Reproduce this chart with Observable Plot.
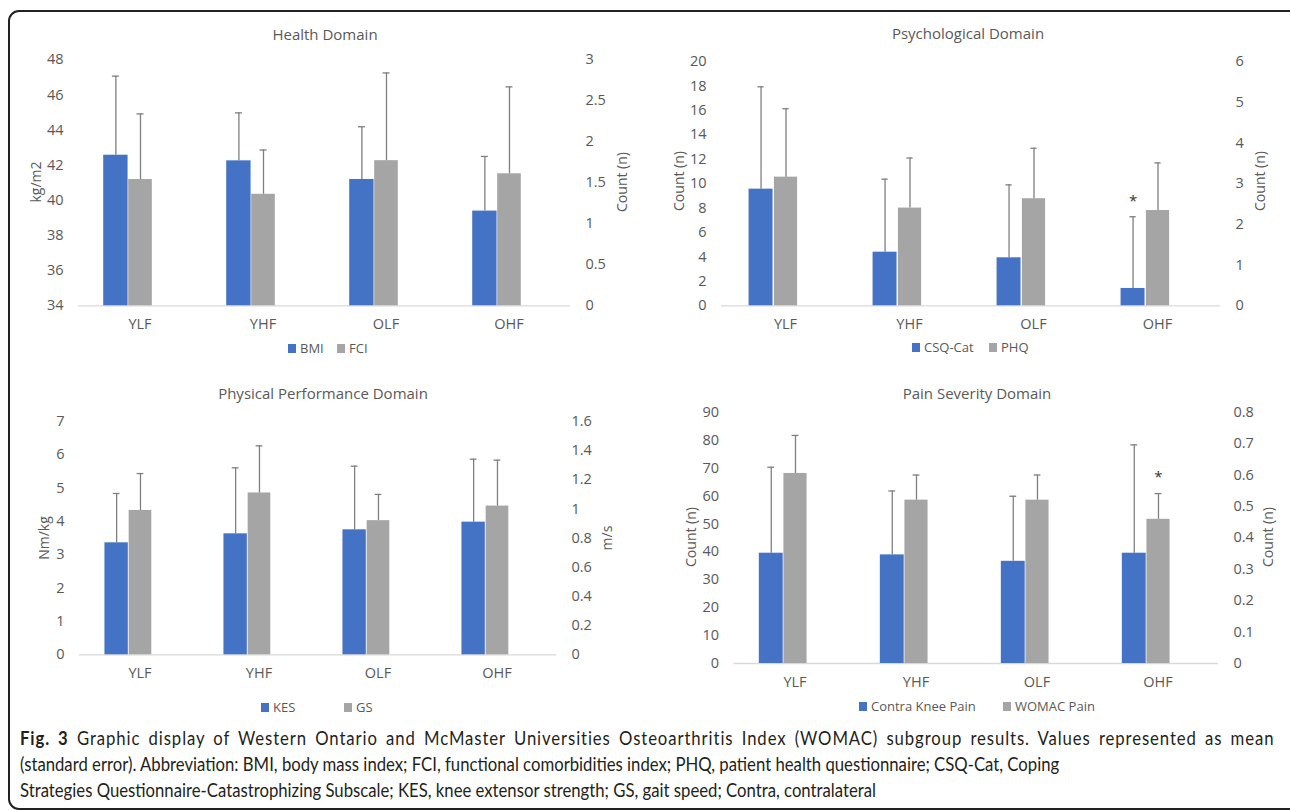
<!DOCTYPE html>
<html>
<head>
<meta charset="utf-8">
<script src="https://cdn.jsdelivr.net/npm/d3@7"></script>
<script src="https://cdn.jsdelivr.net/npm/@observablehq/plot@0.6"></script>
<style>
  html, body { margin: 0; padding: 0; background: #fff; }
  body { width: 1290px; height: 810px; overflow: hidden; position: relative; font-family: "Open Sans", sans-serif; }
  .frame { position: absolute; left: 8px; top: 10px; width: 1292px; height: 800px; border: 2px solid #222; border-radius: 11px; box-sizing: border-box; }
  .abs { position: absolute; white-space: nowrap; }
  .title { font-size: 15px; color: #595959; transform: translate(-50%, -50%); }
  .ylab { font-size: 14px; color: #595959; transform: translate(-50%, -50%) rotate(-90deg); }
  .leg { font-size: 13px; color: #595959; transform: translateY(-50%); display: flex; align-items: center; }
  .sw { display: inline-block; width: 8px; height: 9px; margin-right: 4px; }
  .cap { font-family: Lato, sans-serif; font-size: 18.5px; color: #231f20; transform-origin: 0 50%; }
  .cap b { font-weight: 700; }
  .panel { position: absolute; }
</style>
</head>
<body>
<div class="frame"></div>
<div id="root"></div>
<script>
// ---------- data ----------
const groups = ["YLF", "YHF", "OLF", "OHF"];

// Health domain
const bmiMean = [42.57, 42.25, 41.19, 39.39];
const bmiSE   = [4.50, 2.73, 3.00, 3.11];
const fciMean = [1.54, 1.36, 1.77, 1.61];
const fciSE   = [0.80, 0.54, 1.07, 1.06];
const healthLeftTicks  = [34, 36, 38, 40, 42, 44, 46, 48];
const healthRightTicks = [0, 0.5, 1, 1.5, 2, 2.5, 3];

// Psychological domain
const csqMean = [9.55, 4.39, 3.93, 1.42];
const csqSE   = [8.38, 5.98, 5.97, 5.87];
const phqMean = [3.16, 2.40, 2.63, 2.34];
const phqSE   = [1.68, 1.23, 1.24, 1.17];
const psychLeftTicks  = [0, 2, 4, 6, 8, 10, 12, 14, 16, 18, 20];
const psychRightTicks = [0, 1, 2, 3, 4, 5, 6];
const psychStarsPrimary = ["OHF"];

// Physical performance domain
const kesMean = [3.36, 3.63, 3.75, 3.98];
const kesSE   = [1.48, 1.98, 1.91, 1.89];
const gsMean  = [0.99, 1.11, 0.92, 1.02];
const gsSE    = [0.253, 0.323, 0.18, 0.315];
const physLeftTicks  = [0, 1, 2, 3, 4, 5, 6, 7];
const physRightTicks = [0, 0.2, 0.4, 0.6, 0.8, 1, 1.2, 1.4, 1.6];

// Pain severity domain
const contraMean = [39.5, 38.9, 36.6, 39.5];
const contraSE   = [30.8, 22.9, 23.3, 38.8];
const womacMean  = [0.605, 0.52, 0.52, 0.459];
const womacSE    = [0.121, 0.08, 0.08, 0.082];
const painLeftTicks  = [0, 10, 20, 30, 40, 50, 60, 70, 80, 90];
const painRightTicks = [0, 0.1, 0.2, 0.3, 0.4, 0.5, 0.6, 0.7, 0.8];
const painStarsSecondary = ["OHF"];

const BLUE = "#4472C4", GRAY = "#A5A5A5", ERR = "#7f7f7f", TXT = "#595959";
const root = document.getElementById("root");

function addDiv(cls, x, y, html) {
  const d = document.createElement("div");
  d.className = "abs " + cls;
  d.style.left = x + "px";
  d.style.top = y + "px";
  d.innerHTML = html;
  root.appendChild(d);
  return d;
}

function drawPanel(cfg) {
  const {left, top, width, height, mt, mb, ml, mr, lo, hi, sHi,
         leftTicks, rightTicks, m1, e1, m2, e2, star1 = [], star2 = []} = cfg;
  const k = (hi - lo) / sHi;
  const toP = v => lo + v * k;
  const bw = (width - ml - mr) / groups.length;
  const A = [-0.295, -0.097], B = [-0.092, 0.100];
  const ins = s => ({insetLeft: (0.5 + s[0]) * bw, insetRight: (0.5 - s[1]) * bw});
  const cx = s => (s[0] + s[1]) / 2 * bw;
  const rows1 = groups.map((g, i) => ({g, v: m1[i], top: m1[i] + e1[i], star: star1.includes(g)}));
  const rows2 = groups.map((g, i) => ({g, v: toP(m2[i]), top: toP(m2[i] + e2[i]), star: star2.includes(g)}));
  const err = (rows, s) => [
    Plot.ruleX(rows, {x: "g", y1: "v", y2: "top", dx: cx(s), stroke: ERR, strokeWidth: 1.3}),
    Plot.tickY(rows, {x: "g", y: "top", insetLeft: bw / 2 + cx(s) - 3.5, insetRight: bw / 2 - cx(s) - 3.5, stroke: ERR, strokeWidth: 1.3}),
    Plot.text(rows.filter(d => d.star), {x: "g", y: "top", dx: cx(s), dy: -16, text: () => "*", fontSize: 15, fill: "#333"})
  ];
  const fmt = d => String(+((d - lo) / k).toFixed(4));
  const svg = Plot.plot({
    width, height,
    marginTop: mt, marginBottom: mb, marginLeft: ml, marginRight: mr,
    style: {fontFamily: "'Open Sans', sans-serif", fontSize: "14.5px", color: TXT, background: "transparent", overflow: "visible"},
    x: {type: "band", domain: groups, padding: 0},
    y: {domain: [lo, hi]},
    marks: [
      Plot.ruleY([lo], {stroke: "#d9d9d9", strokeWidth: 1.3}),
      Plot.barY(rows1, {x: "g", y1: lo, y2: "v", fill: BLUE, ...ins(A)}),
      Plot.barY(rows2, {x: "g", y1: lo, y2: "v", fill: GRAY, ...ins(B)}),
      ...err(rows1, A),
      ...err(rows2, B),
      Plot.axisX({tickSize: 0, tickPadding: 13, label: null, fontSize: 14.5}),
      Plot.axisY(leftTicks, {anchor: "left", tickSize: 0, tickPadding: 15, label: null, fontSize: 14.5}),
      Plot.axisY(rightTicks.map(toP), {anchor: "right", tickSize: 0, tickPadding: 15, label: null, tickFormat: fmt, fontSize: 14.5})
    ]
  });
  const wrap = document.createElement("div");
  wrap.className = "panel";
  wrap.style.left = left + "px";
  wrap.style.top = top + "px";
  wrap.appendChild(svg);
  root.appendChild(wrap);
}

function legend(items, y) {
  for (const [x, color, label] of items) {
    addDiv("leg", x, y, `<span class="sw" style="background:${color}"></span>${label}`);
  }
}

// Panel 1: Health Domain
addDiv("title", 325, 34, "Health Domain");
drawPanel({left: 0, top: 45, width: 645, height: 300, mt: 14.3, mb: 39.7, ml: 78, mr: 75,
  lo: 34, hi: 48, sHi: 3, leftTicks: healthLeftTicks, rightTicks: healthRightTicks,
  m1: bmiMean, e1: bmiSE, m2: fciMean, e2: fciSE});
addDiv("ylab", 35, 182, "kg/m2");
addDiv("ylab", 621, 182, "Count (n)");
legend([[288, BLUE, "BMI"], [337, GRAY, "FCI"]], 348);

// Panel 2: Psychological Domain
addDiv("title", 968, 33, "Psychological Domain");
drawPanel({left: 645, top: 45, width: 645, height: 300, mt: 16, mb: 39.7, ml: 76, mr: 70,
  lo: 0, hi: 20, sHi: 6, leftTicks: psychLeftTicks, rightTicks: psychRightTicks,
  m1: csqMean, e1: csqSE, m2: phqMean, e2: phqSE, star1: psychStarsPrimary});
addDiv("ylab", 678, 181, "Count (n)");
addDiv("ylab", 1259, 181, "Count (n)");
legend([[912, BLUE, "CSQ-Cat"], [989, GRAY, "PHQ"]], 347);

// Panel 3: Physical Performance Domain
addDiv("title", 323, 393, "Physical Performance Domain");
drawPanel({left: 0, top: 405, width: 645, height: 290, mt: 16, mb: 40.7, ml: 79, mr: 89,
  lo: 0, hi: 7, sHi: 1.6, leftTicks: physLeftTicks, rightTicks: physRightTicks,
  m1: kesMean, e1: kesSE, m2: gsMean, e2: gsSE});
addDiv("ylab", 43, 538, "Nm/kg");
addDiv("ylab", 606, 538, "m/s");
legend([[261, BLUE, "KES"], [344, GRAY, "GS"]], 707);

// Panel 4: Pain Severity Domain
addDiv("title", 977, 393, "Pain Severity Domain");
drawPanel({left: 645, top: 400, width: 645, height: 295, mt: 11.7, mb: 32, ml: 88.5, mr: 72,
  lo: 0, hi: 90, sHi: 0.8, leftTicks: painLeftTicks, rightTicks: painRightTicks,
  m1: contraMean, e1: contraSE, m2: womacMean, e2: womacSE, star2: painStarsSecondary});
addDiv("ylab", 690, 537, "Count (n)");
addDiv("ylab", 1267, 537, "Count (n)");
legend([[859, BLUE, "Contra Knee Pain"], [1003, GRAY, "WOMAC Pain"]], 706);

// Caption: condensed text, first line justified to full width
const capLines = [
  "<b>Fig. 3</b> Graphic display of Western Ontario and McMaster Universities Osteoarthritis Index (WOMAC) subgroup results. Values represented as mean",
  "(standard error). Abbreviation: BMI, body mass index; FCI, functional comorbidities index; PHQ, patient health questionnaire; CSQ-Cat, Coping",
  "Strategies Questionnaire-Catastrophizing Subscale; KES, knee extensor strength; GS, gait speed; Contra, contralateral"
];
const capY = [738, 764, 790];
const capDivs = capLines.map((t, i) => {
  const d = addDiv("cap", 20, capY[i], t);
  d.style.transform = "translateY(-50%)";
  return d;
});
const wNat = capDivs.map(d => d.getBoundingClientRect().width);
const s = (1010 / wNat[1] + 880 / wNat[2]) / 2;
const plain0 = capLines[0].replace(/<[^>]+>/g, "");
const spaces = (plain0.match(/ /g) || []).length;
const extra = 1255 / s - wNat[0];
capDivs[0].style.letterSpacing = (extra * 0.7 / plain0.length) + "px";
capDivs[0].style.wordSpacing = (extra * 0.3 / spaces) + "px";
capDivs.forEach(d => { d.style.transform = `translateY(-50%) scaleX(${s})`; });
</script>
</body>
</html>
